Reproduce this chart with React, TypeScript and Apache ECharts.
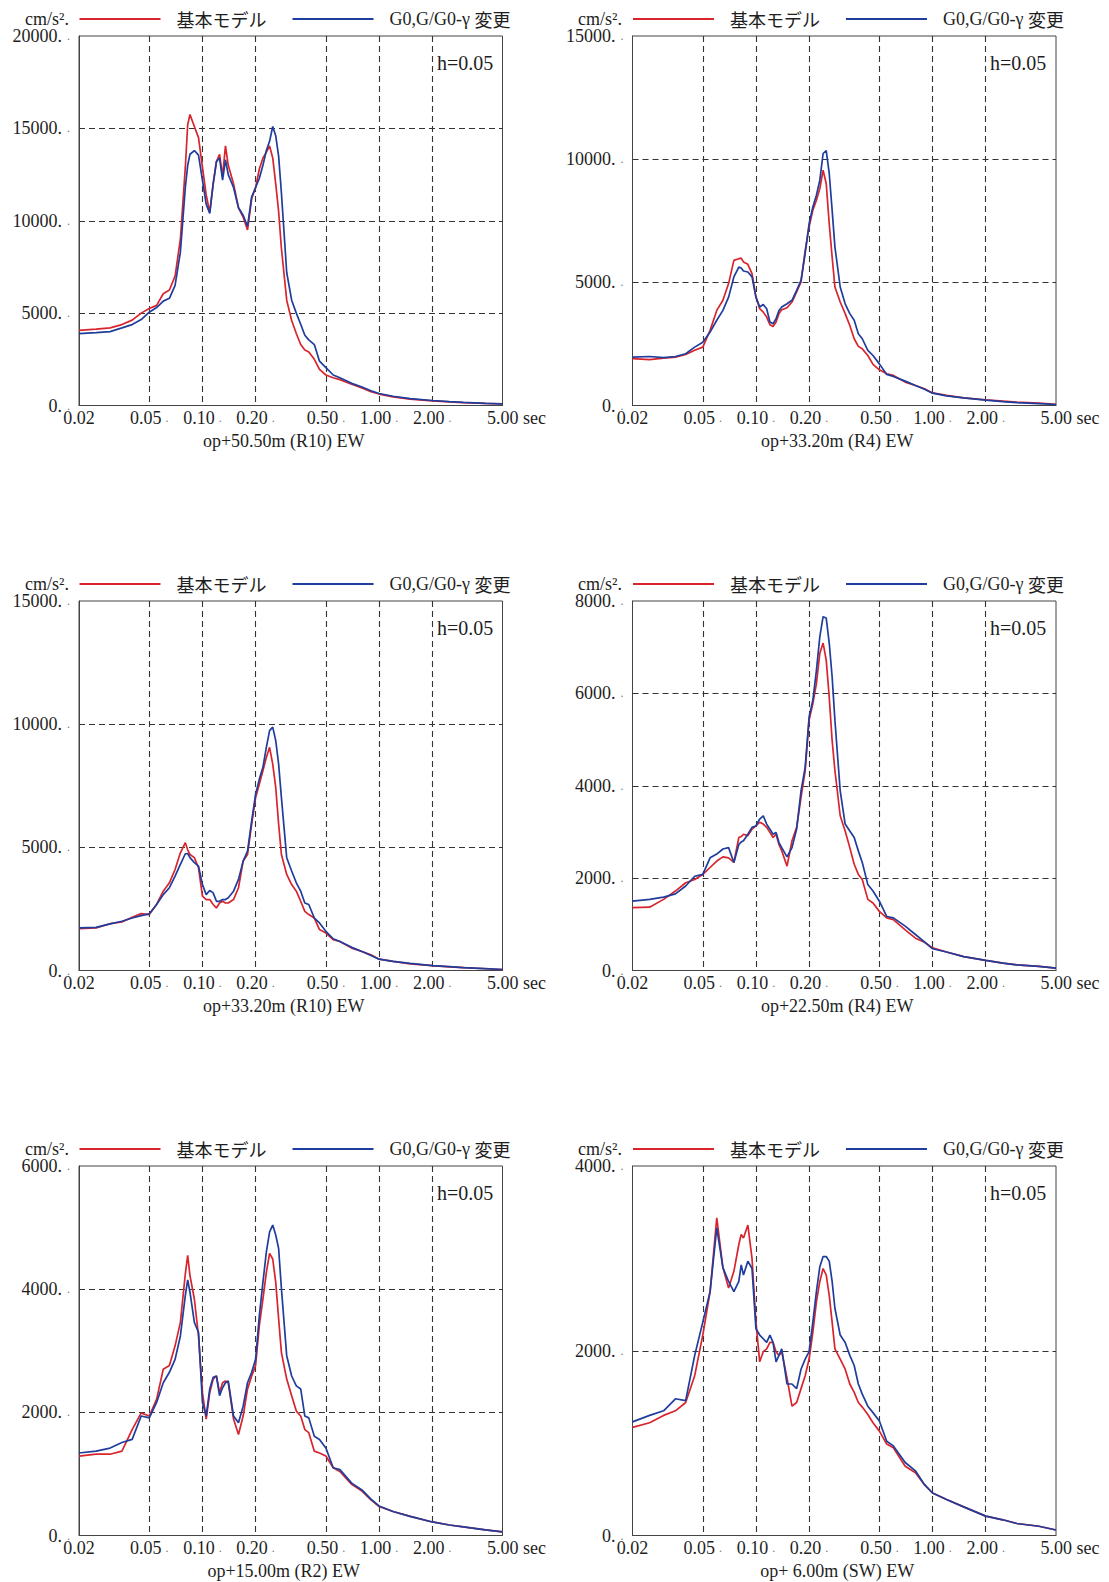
import React, { useEffect, useRef } from 'react';
import * as echarts from 'echarts';

// Periods (sec) shared by all spectra
const periods = [0.02, 0.025, 0.03, 0.035, 0.04, 0.045, 0.05, 0.055, 0.06, 0.065, 0.07, 0.075, 0.08, 0.0825, 0.085, 0.09, 0.095, 0.1, 0.105, 0.11, 0.115, 0.12, 0.125, 0.13, 0.135, 0.14, 0.15, 0.16, 0.17, 0.18, 0.19, 0.2, 0.21, 0.22, 0.23, 0.24, 0.25, 0.26, 0.27, 0.28, 0.3, 0.32, 0.34, 0.36, 0.38, 0.4, 0.43, 0.46, 0.5, 0.55, 0.6, 0.7, 0.8, 0.9, 1.0, 1.2, 1.5, 2.0, 2.5, 3.0, 4.0, 5.0];

// Panel 1: op+50.50m (R10) EW
const p1Base = [4070, 4130, 4200, 4380, 4620, 5000, 5250, 5420, 6050, 6250, 7000, 9000, 12900, 15200, 15750, 15100, 14500, 12900, 11400, 10450, 12000, 13200, 13600, 12400, 14050, 13000, 12000, 10700, 10200, 9500, 11200, 11800, 12800, 13400, 13700, 14050, 13400, 12000, 10500, 8500, 5700, 4600, 3900, 3300, 3000, 2900, 2500, 1950, 1650, 1500, 1400, 1150, 950, 750, 620, 470, 350, 250, 200, 160, 110, 80];
const p1Mod = [3890, 3940, 4000, 4200, 4380, 4650, 5050, 5300, 5650, 5800, 6500, 8300, 11800, 13000, 13600, 13800, 13550, 12200, 10900, 10400, 12000, 13200, 13400, 12200, 13300, 12500, 11800, 10700, 10300, 9700, 11300, 11800, 12300, 13000, 13800, 14300, 15100, 14600, 13500, 11500, 7200, 5700, 5000, 4400, 3800, 3550, 3300, 2400, 2050, 1650, 1500, 1200, 1000, 800, 650, 500, 370, 270, 210, 170, 120, 90];

// Panel 2: op+33.20m (R4) EW
const p2Base = [1900, 1860, 1920, 1960, 2070, 2240, 2370, 3050, 3860, 4270, 4950, 5890, 5960, 5980, 5830, 5730, 5350, 4400, 3930, 3790, 3590, 3280, 3210, 3390, 3730, 3890, 3970, 4200, 4610, 5020, 6300, 7250, 7930, 8330, 8810, 9550, 9010, 7380, 6030, 4810, 4200, 3730, 3250, 2710, 2400, 2300, 2030, 1670, 1450, 1290, 1220, 950, 810, 680, 510, 410, 310, 230, 180, 140, 100, 50];
const p2Mod = [1960, 1990, 1940, 1990, 2100, 2370, 2570, 2980, 3460, 3860, 4400, 5220, 5620, 5580, 5460, 5420, 5220, 4400, 4000, 4100, 3930, 3390, 3320, 3520, 3860, 4000, 4130, 4270, 4670, 5080, 6170, 7380, 8060, 8540, 9150, 10230, 10350, 9420, 7930, 6440, 4810, 4130, 3730, 3460, 2910, 2710, 2240, 2030, 1690, 1260, 1180, 990, 810, 660, 500, 390, 310, 220, 160, 120, 80, 40];

// Panel 3: op+33.20m (R10) EW
const p3Base = [1700, 1730, 1900, 1970, 2160, 2310, 2270, 2680, 3220, 3560, 4100, 4780, 5190, 4900, 4710, 4580, 4170, 3020, 2880, 2880, 2680, 2540, 2740, 2810, 2740, 2740, 2880, 3360, 4440, 4710, 5940, 7020, 7570, 8110, 8650, 9060, 8380, 7430, 5940, 4710, 3900, 3490, 3220, 2810, 2400, 2270, 2130, 1660, 1520, 1250, 1180, 910, 770, 640, 460, 370, 270, 200, 150, 120, 70, 40];
const p3Mod = [1730, 1750, 1890, 2000, 2130, 2230, 2300, 2680, 3080, 3360, 3830, 4310, 4740, 4750, 4580, 4380, 4240, 3490, 3080, 3250, 3150, 2810, 2810, 2880, 2880, 2950, 3220, 3700, 4440, 4850, 6070, 7160, 7770, 8250, 9060, 9740, 9880, 9330, 8380, 7020, 4580, 4040, 3560, 3220, 2740, 2680, 2130, 1930, 1590, 1290, 1180, 940, 770, 610, 460, 370, 290, 200, 160, 120, 80, 40];

// Panel 4: op+22.50m (R4) EW
const p4Base = [1360, 1370, 1540, 1720, 1900, 1970, 2080, 2230, 2370, 2460, 2440, 2340, 2880, 2900, 2950, 2920, 3060, 3130, 3210, 3170, 3100, 2990, 2880, 2950, 2730, 2590, 2260, 2810, 3100, 3750, 4330, 5420, 5780, 6210, 6870, 7090, 6720, 5920, 4980, 4330, 3350, 3020, 2660, 2300, 2080, 1970, 1540, 1460, 1280, 1140, 1100, 880, 700, 610, 490, 400, 300, 220, 160, 120, 90, 50];
const p4Mod = [1500, 1540, 1590, 1660, 1830, 2040, 2080, 2440, 2520, 2630, 2660, 2340, 2730, 2780, 2810, 2950, 3100, 3130, 3280, 3350, 3170, 3060, 2950, 2990, 2770, 2660, 2460, 2660, 3060, 3890, 4400, 5490, 5850, 6500, 7230, 7660, 7630, 7090, 6360, 5420, 3890, 3170, 3020, 2880, 2590, 2340, 1860, 1720, 1500, 1170, 1140, 960, 780, 620, 470, 400, 300, 220, 160, 120, 90, 50];

// Panel 5: op+15.00m (R2) EW
const p5Base = [1290, 1320, 1320, 1370, 1720, 1990, 1940, 2210, 2700, 2760, 3080, 3460, 4250, 4550, 4220, 3840, 3240, 2320, 1890, 2320, 2540, 2590, 2320, 2480, 2510, 2480, 1890, 1640, 1940, 2380, 2590, 2760, 3410, 3840, 4270, 4580, 4490, 4110, 3520, 2970, 2540, 2270, 2020, 1940, 1720, 1670, 1370, 1340, 1290, 1100, 1040, 830, 720, 580, 470, 390, 310, 220, 170, 140, 90, 60];
const p5Mod = [1340, 1370, 1420, 1510, 1560, 1940, 1910, 2160, 2480, 2650, 2860, 3240, 3900, 4150, 3950, 3460, 3300, 2160, 1940, 2380, 2570, 2590, 2270, 2400, 2480, 2510, 1940, 1830, 2100, 2480, 2650, 2860, 3570, 4110, 4600, 4930, 5040, 4880, 4660, 4010, 2920, 2590, 2430, 2380, 1940, 1910, 1610, 1560, 1420, 1100, 1070, 850, 740, 590, 480, 390, 310, 220, 170, 140, 90, 60];

// Panel 6: op+ 6.00m (SW) EW
const p6Base = [1170, 1220, 1300, 1350, 1440, 1730, 2170, 2640, 3440, 2900, 2680, 2860, 3150, 3260, 3220, 3360, 3000, 2310, 1880, 1990, 2020, 2090, 2090, 1990, 1950, 1990, 1700, 1400, 1440, 1590, 1730, 1910, 2200, 2530, 2750, 2890, 2820, 2600, 2310, 2020, 1910, 1800, 1640, 1550, 1440, 1390, 1310, 1220, 1130, 990, 950, 750, 680, 550, 460, 390, 310, 210, 170, 130, 100, 60];
const p6Mod = [1230, 1300, 1350, 1480, 1460, 1950, 2310, 2640, 3330, 2900, 2750, 2640, 2750, 2930, 2820, 2970, 2890, 2240, 2170, 2130, 2090, 2170, 2090, 1880, 1950, 2020, 1640, 1640, 1590, 1800, 1910, 1990, 2310, 2640, 2910, 3020, 3020, 2970, 2750, 2460, 2170, 2090, 1950, 1840, 1640, 1530, 1400, 1330, 1240, 1020, 970, 790, 700, 550, 460, 390, 310, 210, 170, 130, 100, 60];

const panelNames = ['op+50.50m (R10) EW', 'op+33.20m (R4) EW', 'op+33.20m (R10) EW', 'op+22.50m (R4) EW', 'op+15.00m (R2) EW', 'op+ 6.00m (SW) EW'];
const baseSeries = [p1Base, p2Base, p3Base, p4Base, p5Base, p6Base];
const modSeries = [p1Mod, p2Mod, p3Mod, p4Mod, p5Mod, p6Mod];
const yMax = [20000, 15000, 15000, 8000, 6000, 4000];
const yStep = [5000, 5000, 5000, 2000, 2000, 2000];
const xLabelPeriods = [0.02, 0.05, 0.1, 0.2, 0.5, 1, 2, 5];
const xGridPeriods = [0.05, 0.1, 0.2, 0.5, 1, 2];
const seriesNames = ['基本モデル', 'G0,G/G0-γ 変更'];
const dampingLabel = 'h=0.05';
const yUnit = 'cm/s².';

const SERIF = '"Liberation Serif", "Times New Roman", serif';
const CJK = '"Noto Sans CJK JP", "Noto Sans CJK SC", sans-serif';
const RED = '#d8252d';
const BLUE = '#1f3d9c';
const TXT = '#1e1e1e';
const FRAME = '#444';
const GRIDC = '#333';

const colLeft = [79, 632.5];
const plotW = 423.5;
const rowTop = [36, 601, 1166];
const plotH = 369.5;
const hLeft = [437, 990];
const unitLeft = [25, 578];

const lg = (v: number) => Math.log10(v);

function buildOption() {
  const grid: any[] = [];
  const xAxis: any[] = [];
  const yAxis: any[] = [];
  const series: any[] = [];
  const legend: any[] = [];
  const title: any[] = [];

  panelNames.forEach((pname, i) => {
    const c = i % 2;
    const r = Math.floor(i / 2);
    grid.push({
      left: colLeft[c], top: rowTop[r], width: plotW, height: plotH,
      show: true, borderColor: FRAME, borderWidth: 1, backgroundColor: 'transparent',
    });
    xAxis.push({
      type: 'value', gridIndex: i, min: lg(0.02), max: lg(5),
      name: pname, nameLocation: 'middle', nameGap: 26,
      nameTextStyle: { fontFamily: SERIF, fontSize: 18, color: TXT, padding: [0, 14, 0, 0] },
      axisLine: { show: true, onZero: false, lineStyle: { color: FRAME, width: 1 } },
      axisTick: { show: false, customValues: xGridPeriods.map(lg) },
      axisLabel: {
        customValues: xLabelPeriods.map(lg), margin: 3, hideOverlap: false,
        showMinLabel: true, showMaxLabel: true,
        fontFamily: SERIF, fontSize: 18, color: TXT,
        formatter: (v: number) => {
          const t = Math.pow(10, v);
          if (Math.abs(t - 5) < 0.01) return '{e|5.00 sec}';
          if (Math.abs(t - 0.02) < 0.0001) return '{n|0.02}';
          return '{n|' + t.toFixed(2) + '}{d|.}';
        },
        rich: {
          n: { fontFamily: SERIF, fontSize: 18, color: TXT },
          d: { fontFamily: SERIF, fontSize: 12, color: '#777', padding: [0, 0, 0, 4] },
          e: { fontFamily: SERIF, fontSize: 18, color: TXT, padding: [0, 0, 0, 28] },
        },
      },
      splitLine: { show: true, showMinLine: true, showMaxLine: true, lineStyle: { type: [6, 4], color: GRIDC, width: 1.1 } },
    });
    yAxis.push({
      type: 'value', gridIndex: i, min: 0, max: yMax[i], interval: yStep[i],
      axisLine: { show: true, onZero: false, lineStyle: { color: FRAME, width: 1 } },
      axisTick: { show: false },
      axisLabel: {
        margin: 9, showMinLabel: true, showMaxLabel: true,
        fontFamily: SERIF, fontSize: 18, color: TXT,
        formatter: (v: number) => '{n|' + v + '.}{d|.}',
        rich: {
          n: { fontFamily: SERIF, fontSize: 18, color: TXT },
          d: { fontFamily: SERIF, fontSize: 12, color: '#777', padding: [0, 0, 0, 5] },
        },
      },
      splitLine: { show: true, showMinLine: false, showMaxLine: false, lineStyle: { type: [6, 4], color: GRIDC, width: 1.1 } },
    });
    series.push({
      type: 'line', name: seriesNames[0], xAxisIndex: i, yAxisIndex: i,
      data: periods.map((t, k) => [lg(t), baseSeries[i][k]]),
      showSymbol: false, symbol: 'none', smooth: false,
      lineStyle: { color: RED, width: 1.7 }, itemStyle: { color: RED },
    });
    series.push({
      type: 'line', name: seriesNames[1], xAxisIndex: i, yAxisIndex: i,
      data: periods.map((t, k) => [lg(t), modSeries[i][k]]),
      showSymbol: false, symbol: 'none', smooth: false,
      lineStyle: { color: BLUE, width: 1.7 }, itemStyle: { color: BLUE },
    });
    legend.push({
      left: colLeft[c] + 0.5, top: rowTop[r] - 26, orient: 'horizontal', padding: 0,
      itemWidth: 81, itemHeight: 2, itemGap: 26, icon: 'rect', selectedMode: false,
      data: seriesNames,
      formatter: (name: string) => name === seriesNames[0] ? '{j|基本モデル}' : '{l|G0,G/G0-γ }{k|変更}',
      textStyle: {
        color: TXT,
        rich: {
          j: { fontFamily: CJK, fontSize: 18, color: TXT, padding: [0, 0, 0, 11] },
          l: { fontFamily: SERIF, fontSize: 18, color: TXT, padding: [0, 0, 0, 11] },
          k: { fontFamily: CJK, fontSize: 18, color: TXT },
        },
      },
    });
    title.push({
      text: dampingLabel, left: hLeft[c], top: rowTop[r] + 16.5, padding: 0,
      textStyle: { fontFamily: SERIF, fontSize: 20, fontWeight: 'normal', color: TXT },
    });
    title.push({
      text: yUnit, left: unitLeft[c], top: rowTop[r] - 26, padding: 0,
      textStyle: { fontFamily: SERIF, fontSize: 18, fontWeight: 'normal', color: TXT },
    });
  });

  return {
    animation: false,
    backgroundColor: '#ffffff',
    textStyle: { fontFamily: SERIF },
    grid, xAxis, yAxis, series, legend, title,
  };
}

export default function App() {
  const ref = useRef<HTMLDivElement>(null);
  useEffect(() => {
    document.body.style.margin = '0';
    if (!ref.current) return;
    const chart = echarts.init(ref.current, undefined, { renderer: 'svg' });
    chart.setOption(buildOption() as any);
    return () => chart.dispose();
  }, []);
  return <div ref={ref} style={{ width: 1109, height: 1582 }} />;
}
